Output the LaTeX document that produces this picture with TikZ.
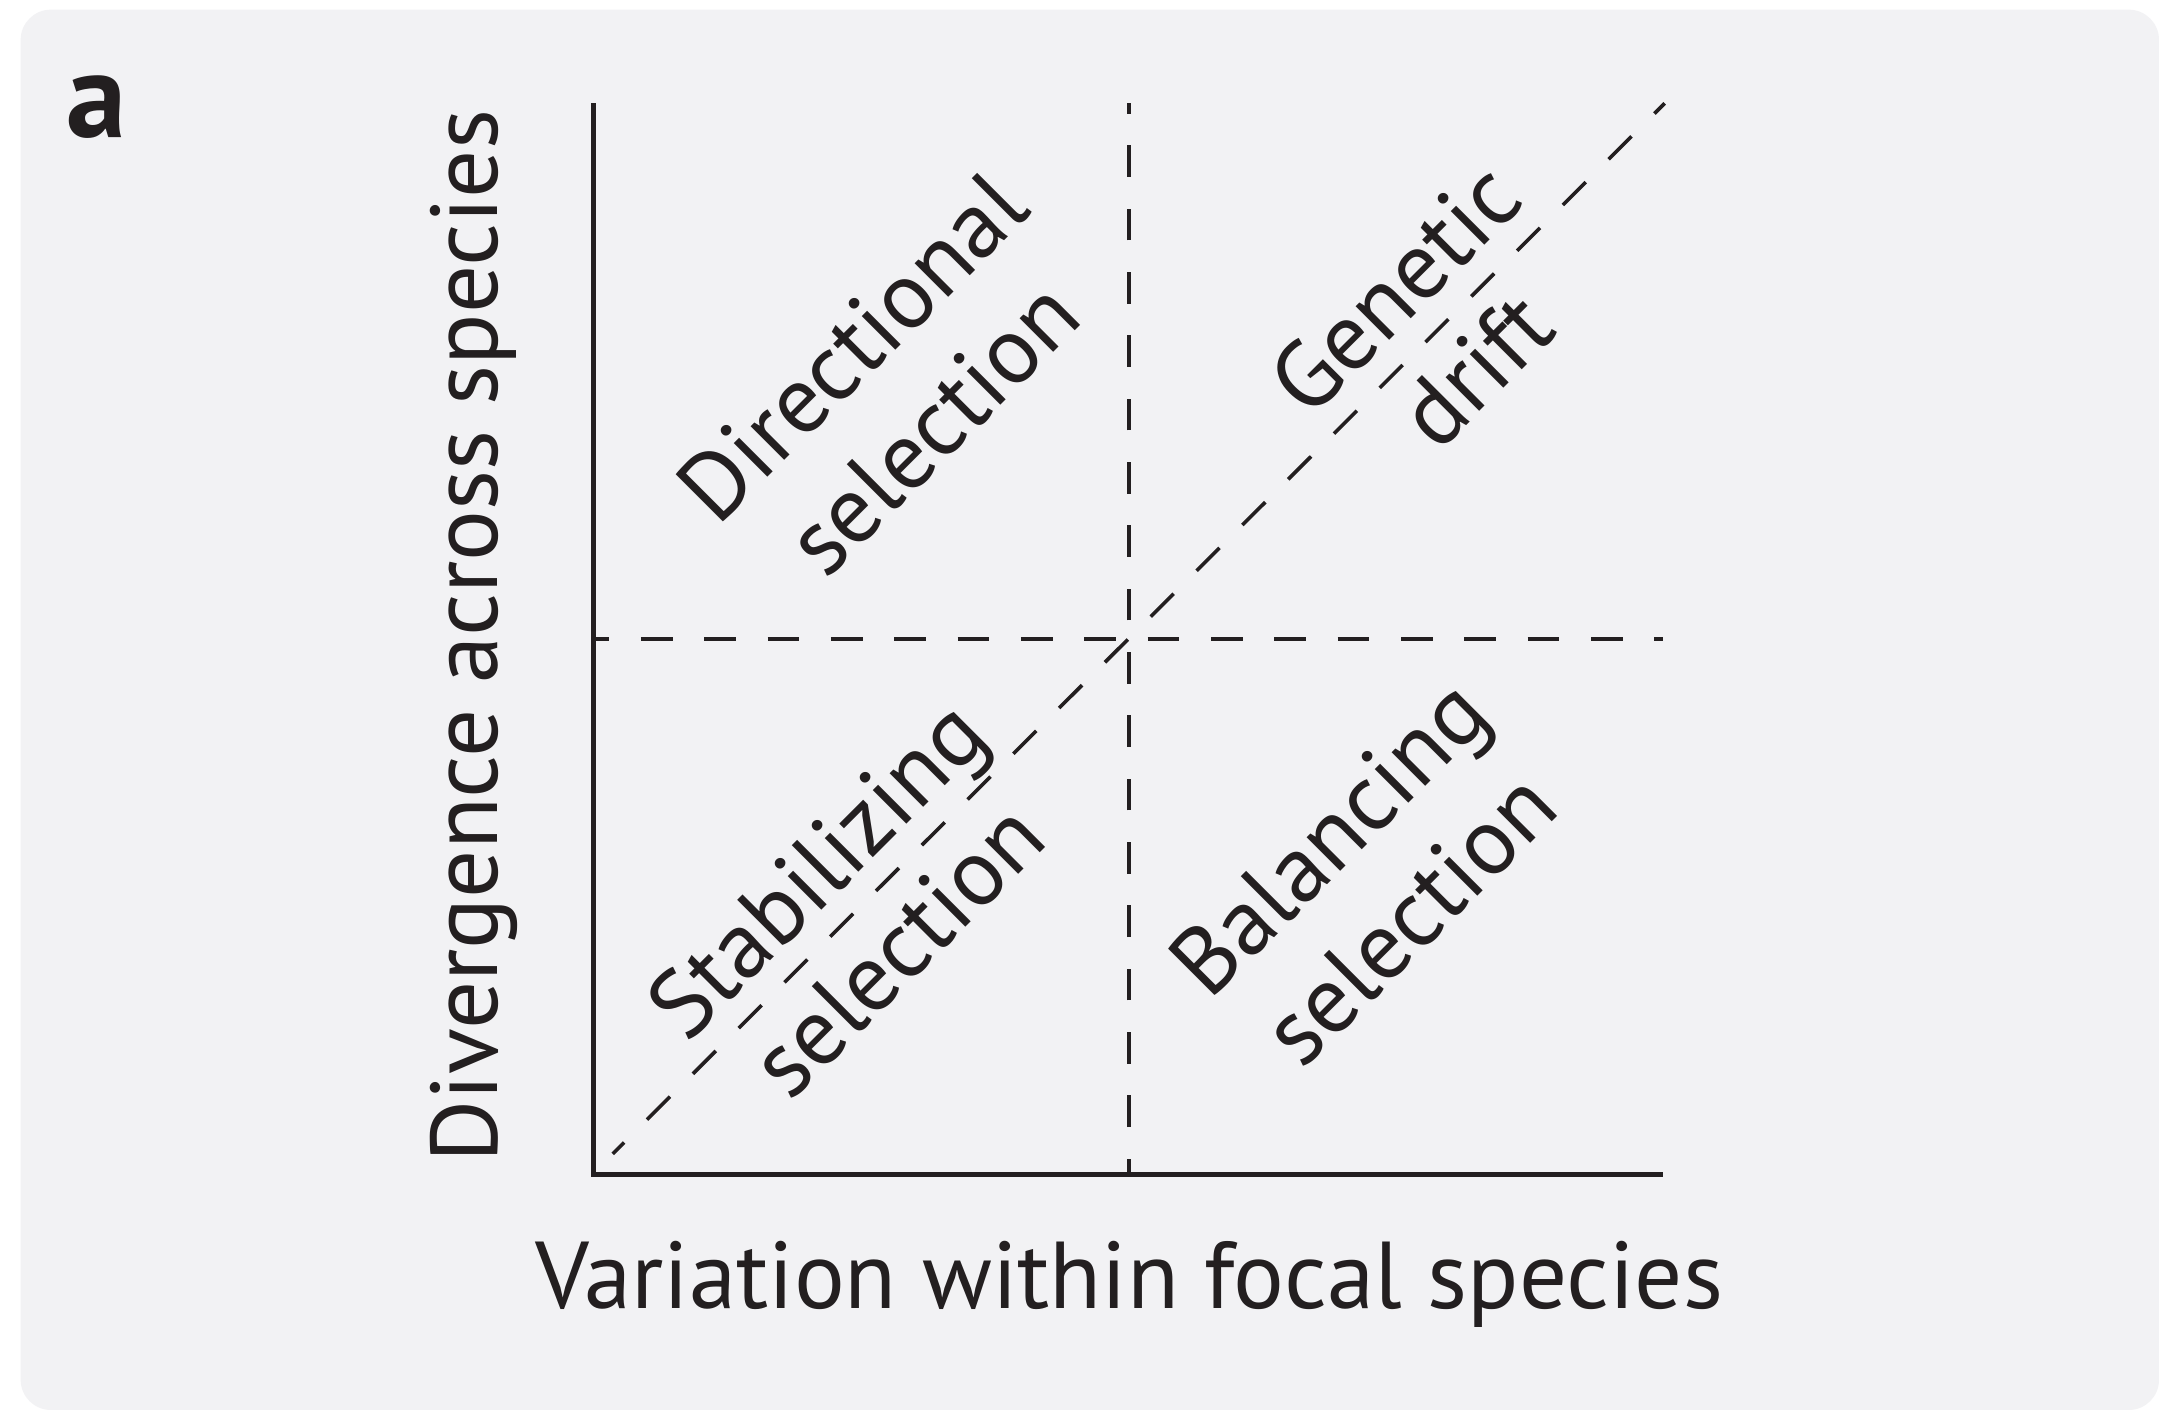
\documentclass[tikz,border=0pt]{standalone}
\usepackage{fontspec}
\setmainfont{PT Sans}
\definecolor{ink}{HTML}{231F20}
\definecolor{panel}{HTML}{F2F2F4}
\begin{document}
\begin{tikzpicture}[x=0.5pt,y=-0.5pt,
  axisline/.style={draw=ink,line width=1.5pt},
  dashline/.style={draw=ink,line width=1.3pt,dash pattern=on 11.5pt off 11.5pt,dash phase=5.75pt},
  diagline/.style={draw=ink,line width=1.3pt,dash pattern=on 11.75pt off 11.75pt,dash phase=5.875pt},
  lbl/.style={text=ink,font=\fontsize{34.5}{41.5}\selectfont,inner sep=0pt},
  quad/.style={lbl,align=center,rotate=45,anchor=center}]
\useasboundingbox (0,0) rectangle (1568,1025);
\fill[white] (0,0) rectangle (1568,1025);
\fill[panel,rounded corners=11pt] (15,7) rectangle (1568,1024);
% panel letter
\node[text=ink,font=\fontsize{44}{44}\bfseries\selectfont,anchor=base west,inner sep=0pt] (tag) at (48,100) {a};
% frame coordinates
\coordinate (O) at (431,853);
\coordinate (Ytop) at (431,75);
\coordinate (Xend) at (1208,853);
\coordinate (Vbot) at (820,853);
\coordinate (Vtop) at (820,75);
\coordinate (Hl) at (431,464);
\coordinate (Hr) at (1208,464);
\coordinate (Ds) at (445,838);
\coordinate (De) at (1209,75);
% dashed guides
\draw[dashline] (Vbot) -- (Vtop);
\draw[dashline] (Hl) -- (Hr);
\draw[diagline] (Ds) -- (De);
% axes
\draw[axisline] (Ytop) -- (O) -- (Xend);
% axis labels
\node[lbl,anchor=base] (xlab) at (820,950) {Variation within focal species};
\node[lbl,anchor=base,rotate=90] (ylab) at (361,462) {Divergence across species};
% quadrant labels
\node[quad] (dir) at (648,281) {Directional\\selection};
\node[quad] (gen) at (1042,239) {Genetic\\drift};
\node[quad] (stab) at (622,660) {Stabilizing\\selection};
\node[quad] (bal) at (994,637) {Balancing\\selection};
\end{tikzpicture}
\end{document}
